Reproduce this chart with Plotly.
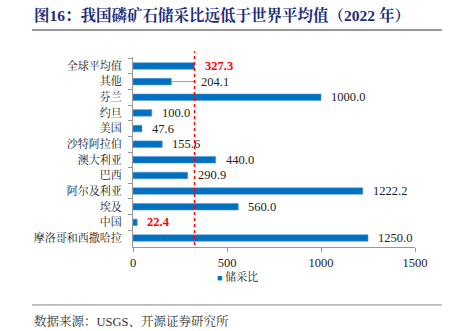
import plotly.graph_objects as go

categories = ["全球平均值", "其他", "芬兰", "约旦", "美国", "沙特阿拉伯", "澳大利亚",
              "巴西", "阿尔及利亚", "埃及", "中国", "摩洛哥和西撒哈拉"]
values = [327.3, 204.1, 1000.0, 100.0, 47.6, 155.6, 440.0, 290.9, 1222.2, 560.0, 22.4, 1250.0]
highlight = ["全球平均值", "中国"]
world_avg = 327.3
x_ticks = [0, 500, 1000, 1500]
series_name = "储采比"

SERIF = "Liberation Serif, Noto Serif CJK SC, Noto Sans CJK SC, serif"
BLUE = "#0070C0"

fig = go.Figure()
fig.add_trace(go.Bar(
    y=categories, x=values, orientation="h", name=series_name,
    marker=dict(color=BLUE, line=dict(color="#5B9BD5", width=0.6)),
    width=0.42, showlegend=False,
))

for c, v in zip(categories, values):
    is_hi = c in highlight
    xpos = v
    shift = 8
    if c == "其他":
        xpos = 335
        shift = 3
    fig.add_annotation(
        x=xpos, y=c, text=f"<b>{v:.1f}</b>" if is_hi else f"{v:.1f}",
        showarrow=False, xanchor="left", xshift=shift, yshift=0,
        font=dict(family=SERIF, size=12.5, color="#FF0000" if is_hi else "#222222"),
    )

# leader line for 其他
fig.add_shape(type="line", xref="x", yref="y", x0=values[1], x1=335,
              y0=categories[1], y1=categories[1], line=dict(color="#999999", width=1))

# world average dotted line
fig.add_shape(type="line", xref="x", yref="paper", x0=world_avg, x1=world_avg,
              y0=0.01, y1=1.03, line=dict(color="#FF0000", width=1.5, dash="dot"))

# legend (manual, small square marker)
fig.add_annotation(xref="paper", yref="paper", x=0.29, y=-0.155, xanchor="left", yanchor="middle",
                   text=f"<span style='color:{BLUE};font-size:9px'>■</span> {series_name}",
                   showarrow=False, font=dict(family=SERIF, size=11, color="#222222"))

# title and separators
fig.add_annotation(xref="paper", yref="paper", x=-0.357, y=1.222, xanchor="left", yanchor="middle",
                   text="<b>图16：我国磷矿石储采比远低于世界平均值（2022 年）</b>", showarrow=False,
                   font=dict(family=SERIF, size=15.5, color="#1F2D7A"))
fig.add_shape(type="line", xref="paper", yref="paper", x0=-0.358, x1=1.095, y0=1.142, y1=1.142,
              line=dict(color="#333333", width=1))
fig.add_shape(type="line", xref="paper", yref="paper", x0=-0.358, x1=1.095, y0=-0.305, y1=-0.305,
              line=dict(color="#888888", width=1))
fig.add_annotation(xref="paper", yref="paper", x=-0.357, y=-0.39, xanchor="left", yanchor="middle",
                   text="数据来源：USGS、开源证券研究所", showarrow=False,
                   font=dict(family=SERIF, size=12.5, color="#333333"))

fig.update_layout(
    width=461, height=331,
    margin=dict(l=133, r=46, t=57, b=84),
    paper_bgcolor="white", plot_bgcolor="white",
    font=dict(family=SERIF, size=11, color="#222222"),
    showlegend=False,
    bargap=0.58,
)
fig.update_xaxes(range=[0, 1500], tickvals=x_ticks, ticktext=[str(t) for t in x_ticks],
                 showgrid=False, zeroline=False, showline=True, linecolor="#999999",
                 ticks="outside", ticklen=4, tickcolor="#999999",
                 tickfont=dict(family=SERIF, size=12.5, color="#222222"))
fig.update_yaxes(categoryorder="array", categoryarray=categories, autorange="reversed",
                 showgrid=False, showline=True, linecolor="#999999",
                 ticks="outside", ticklen=4, tickcolor="#999999", tickson="boundaries",
                 ticklabelstandoff=8,
                 tickfont=dict(family=SERIF, size=11, color="#222222"))

fig.write_html("out.html")
